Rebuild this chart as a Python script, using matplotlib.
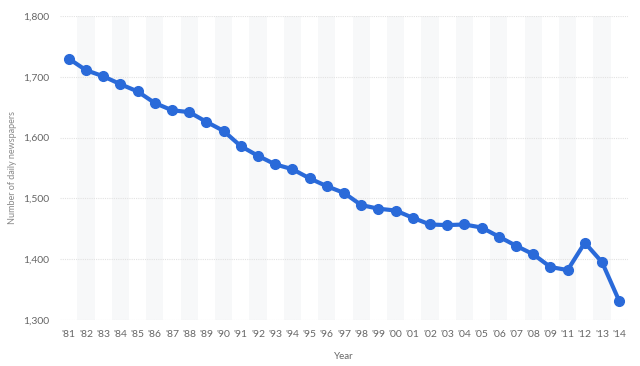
import matplotlib
matplotlib.use("Agg")
import matplotlib.pyplot as plt

plt.rcParams['font.family'] = ['Lato', 'DejaVu Sans']

years = ["'81", "'82", "'83", "'84", "'85", "'86", "'87", "'88", "'89", "'90",
         "'91", "'92", "'93", "'94", "'95", "'96", "'97", "'98", "'99", "'00",
         "'01", "'02", "'03", "'04", "'05", "'06", "'07", "'08", "'09", "'11",
         "'12", "'13", "'14"]
newspapers = [1730, 1711, 1701, 1688, 1676, 1657, 1645, 1642, 1626, 1611,
              1586, 1570, 1556, 1548, 1533, 1520, 1509, 1489, 1483, 1480,
              1468, 1457, 1456, 1457, 1452, 1437, 1422, 1408, 1387, 1382,
              1427, 1395, 1331]
y_ticks = [1300, 1400, 1500, 1600, 1700, 1800]

fig = plt.figure(figsize=(6.4, 3.66), dpi=100)
ax = fig.add_axes([0.094, 0.126, 0.887, 0.830])

x = list(range(len(years)))

# alternating column shading
for i in x:
    if i % 2 == 1:
        ax.axvspan(i - 0.5, i + 0.5, color='#f7f8f9', zorder=0, lw=0)

for t in y_ticks:
    ax.axhline(t, color='#e2e2e2', lw=0.8, ls=(0, (1, 1)), zorder=1)

ax.plot(x, newspapers, color='#2a6ad9', lw=3, marker='o', markersize=7,
        solid_joinstyle='round', zorder=3)

ax.set_xlim(-0.5, len(years) - 0.5)
ax.set_ylim(1300, 1800)
ax.set_xticks(x)
ax.set_xticklabels(years)
ax.set_yticks(y_ticks)
ax.set_yticklabels([f"{v:,}" for v in y_ticks])

for s in ax.spines.values():
    s.set_visible(False)
ax.tick_params(length=0, colors='#666666', labelsize=7.5)
ax.tick_params(axis='x', pad=7)
ax.tick_params(axis='y', pad=8)

ax.set_xlabel("Year", color='#666666', fontsize=7, labelpad=10)
ax.set_ylabel("Number of daily newspapers", color='#888888', fontsize=6.5, labelpad=4)

fig.savefig("out.png", dpi=100)
